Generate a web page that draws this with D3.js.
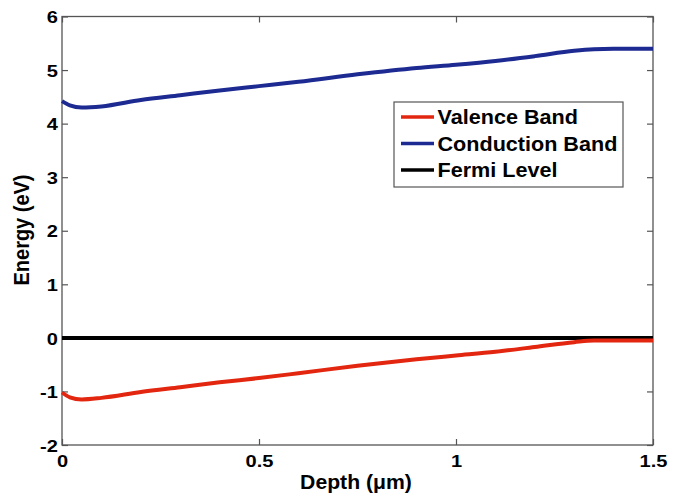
<!DOCTYPE html>
<html><head><meta charset="utf-8">
<script src="https://cdn.jsdelivr.net/npm/d3@7"></script>
<style>body{margin:0;background:#fff}</style>
</head><body>
<svg id="c" width="680" height="496"></svg>
<script>
const depth = [0, 0.02, 0.05, 0.1, 0.2, 0.3, 0.4, 0.5, 0.6, 0.75, 0.9, 1.0, 1.1, 1.2, 1.3, 1.35, 1.4, 1.5];
const conduction = [4.42, 4.34, 4.30, 4.32, 4.44, 4.53, 4.62, 4.70, 4.78, 4.92, 5.04, 5.10, 5.17, 5.26, 5.36, 5.39, 5.40, 5.40];
const valence = [-1.02, -1.11, -1.15, -1.12, -1.01, -0.92, -0.83, -0.75, -0.66, -0.52, -0.40, -0.33, -0.26, -0.17, -0.08, -0.05, -0.05, -0.05];
const fermi = [0, 0];
const fermiX = [0, 1.5];
const xTicks = [0, 0.5, 1, 1.5];
const yTicks = [-2, -1, 0, 1, 2, 3, 4, 5, 6];
const legendLabels = ["Valence Band", "Conduction Band", "Fermi Level"];
const colors = ["#e3260f", "#1c2a92", "#000000"];

const svg = d3.select("#c");
const L = 62, R = 653, T = 16.5, B = 445;
const x = d3.scaleLinear().domain([0, 1.5]).range([L, R]);
const y = d3.scaleLinear().domain([-2, 6]).range([B, T]);
const font = "Arial, 'Liberation Sans', sans-serif";
const fmt = d => String(d).replace("\u2212", "-");

svg.append("rect").attr("x", L).attr("y", T).attr("width", R - L).attr("height", B - T)
  .attr("fill", "none").attr("stroke", "#555").attr("stroke-width", 1.3);

const ax = svg.append("g").attr("transform", `translate(0,${B})`)
  .call(d3.axisBottom(x).tickValues(xTicks).tickSize(-6).tickFormat(fmt));
const ax2 = svg.append("g").attr("transform", `translate(0,${T})`)
  .call(d3.axisTop(x).tickValues(xTicks).tickSize(-6).tickFormat(""));
const ay = svg.append("g").attr("transform", `translate(${L},0)`)
  .call(d3.axisLeft(y).tickValues(yTicks).tickSize(-6).tickFormat(fmt));
const ay2 = svg.append("g").attr("transform", `translate(${R},0)`)
  .call(d3.axisRight(y).tickValues(yTicks).tickSize(-6).tickFormat(""));
[ax, ax2, ay, ay2].forEach(g => {
  g.select(".domain").remove();
  g.selectAll(".tick line").attr("stroke", "#555").attr("stroke-width", 1.2);
  g.selectAll("text").attr("font-family", font).attr("font-weight", "bold")
    .attr("font-size", 17).attr("fill", "#000").attr("transform", "scale(1.18,1)");
});
ax.selectAll("text").attr("y", 10).attr("dy", "0.71em");
ay.selectAll("text").attr("x", -3.5).attr("dy", "0.36em");

svg.append("text").attr("transform", "translate(356,489) scale(1.06,1)").attr("text-anchor", "middle")
  .attr("font-family", font).attr("font-weight", "bold").attr("font-size", 20)
  .text("Depth (μm)");
svg.append("text").attr("transform", `translate(29,230) rotate(-90) scale(1,1.08)`)
  .attr("text-anchor", "middle")
  .attr("font-family", font).attr("font-weight", "bold").attr("font-size", 20)
  .text("Energy (eV)");

const line = d3.line().curve(d3.curveMonotoneX).x(d => x(d[0])).y(d => y(d[1]));
const g = svg.append("g");
g.append("path").datum(d3.zip(fermiX, fermi)).attr("d", line)
  .attr("fill", "none").attr("stroke", colors[2]).attr("stroke-width", 4);
g.append("path").datum(d3.zip(depth, valence)).attr("d", line)
  .attr("fill", "none").attr("stroke", colors[0]).attr("stroke-width", 4);
g.append("path").datum(d3.zip(depth, conduction)).attr("d", line)
  .attr("fill", "none").attr("stroke", colors[1]).attr("stroke-width", 4);

const lg = svg.append("g");
lg.append("rect").attr("x", 394).attr("y", 102).attr("width", 229).attr("height", 85)
  .attr("fill", "#fff").attr("stroke", "#555").attr("stroke-width", 1.2);
legendLabels.forEach((lab, i) => {
  const yy = 117 + i * 26.5;
  lg.append("line").attr("x1", 401).attr("x2", 434).attr("y1", yy).attr("y2", yy)
    .attr("stroke", colors[i]).attr("stroke-width", 3.5);
  lg.append("text").attr("transform", `translate(437.5,${yy}) scale(1.08,1)`).attr("dy", "0.36em")
    .attr("font-family", font).attr("font-weight", "bold").attr("font-size", 20)
    .text(lab);
});
</script>
</body></html>
